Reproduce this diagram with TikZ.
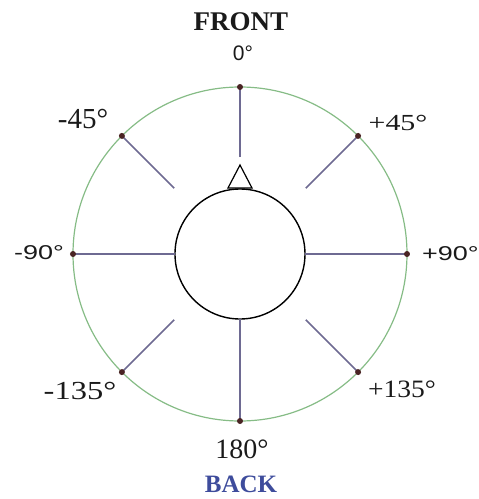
\documentclass[tikz,border=0pt]{standalone}
\usepackage{fontspec}
\usepackage{graphicx}
\setmainfont{Liberation Serif}
\newfontfamily\sansfam{Liberation Sans}
\usetikzlibrary{positioning}
\definecolor{rim}     {HTML}{86BC86}
\definecolor{spoke}   {HTML}{6E6A92}
\definecolor{mark}    {HTML}{4A2424}
\definecolor{ink}     {HTML}{1A1A1A}
\definecolor{backblue}{HTML}{3E4C9C}

\begin{document}
\begin{tikzpicture}[x=1pt, y=1pt,
    dot/.style={circle, fill=mark, inner sep=0pt, minimum size=6pt},
    deg/.style={text=ink, anchor=base, inner sep=0pt}]
    \useasboundingbox (-240,-245) rectangle (239,254);

    \draw[rim, line width=1.2pt] (0,0) circle (167);
    \node[draw=black, line width=1.4pt, circle, minimum size=130pt,
          inner sep=0pt] (head) at (0,0) {};
    % nose on top of the head
    \coordinate (nose) at (0,89);
    \draw[black, line width=1.2pt] (-12,66) -- (nose) -- (12,66) -- cycle;

    \foreach \a/\r [count=\i] in {%
      90/97, 45/93, 0/65, -45/93, -90/65, -135/93, 180/65, 135/93}
      {\coordinate (q\i) at (\a:\r);
       \coordinate (p\i) at (\a:167);
       \draw[spoke, line width=1.5pt] (q\i) -- (p\i);
       \node[dot] (d\i) at (p\i) {};}

    \node[deg, font=\bfseries\fontsize{27}{30}\selectfont] (front) at (1,224) {FRONT};
    \node[deg, font=\sansfam\fontsize{21}{24}\selectfont] (l0) at (3,194) {0°};
    \node[deg, font=\fontsize{29}{32}\selectfont] (lm45) at (-157,126) {-45°};
    \node[deg, font=\fontsize{23}{26}\selectfont] (lp45) at (158,124)
      {\scalebox{1.3}[1]{+45°}};
    \node[deg, font=\sansfam\fontsize{20}{23}\selectfont] (lm90) at (-201,-5)
      {\scalebox{1.35}[1]{-90°}};
    \node[deg, anchor=base west, font=\sansfam\fontsize{20}{23}\selectfont] (lp90)
      at (182,-6) {\scalebox{1.35}[1]{+90°}};
    \node[deg, font=\fontsize{26}{29}\selectfont] (lm135) at (-160,-145)
      {\scalebox{1.25}[1]{-135°}};
    \node[deg, font=\fontsize{25}{28}\selectfont] (lp135) at (162,-143)
      {\scalebox{1.1}[1]{+135°}};
    \node[deg, font=\fontsize{28}{31}\selectfont] (l180) at (2,-204) {180°};
    \node[deg, text=backblue, font=\bfseries\fontsize{25}{28}\selectfont] (back)
      at (1,-238) {BACK};
\end{tikzpicture}
\end{document}
